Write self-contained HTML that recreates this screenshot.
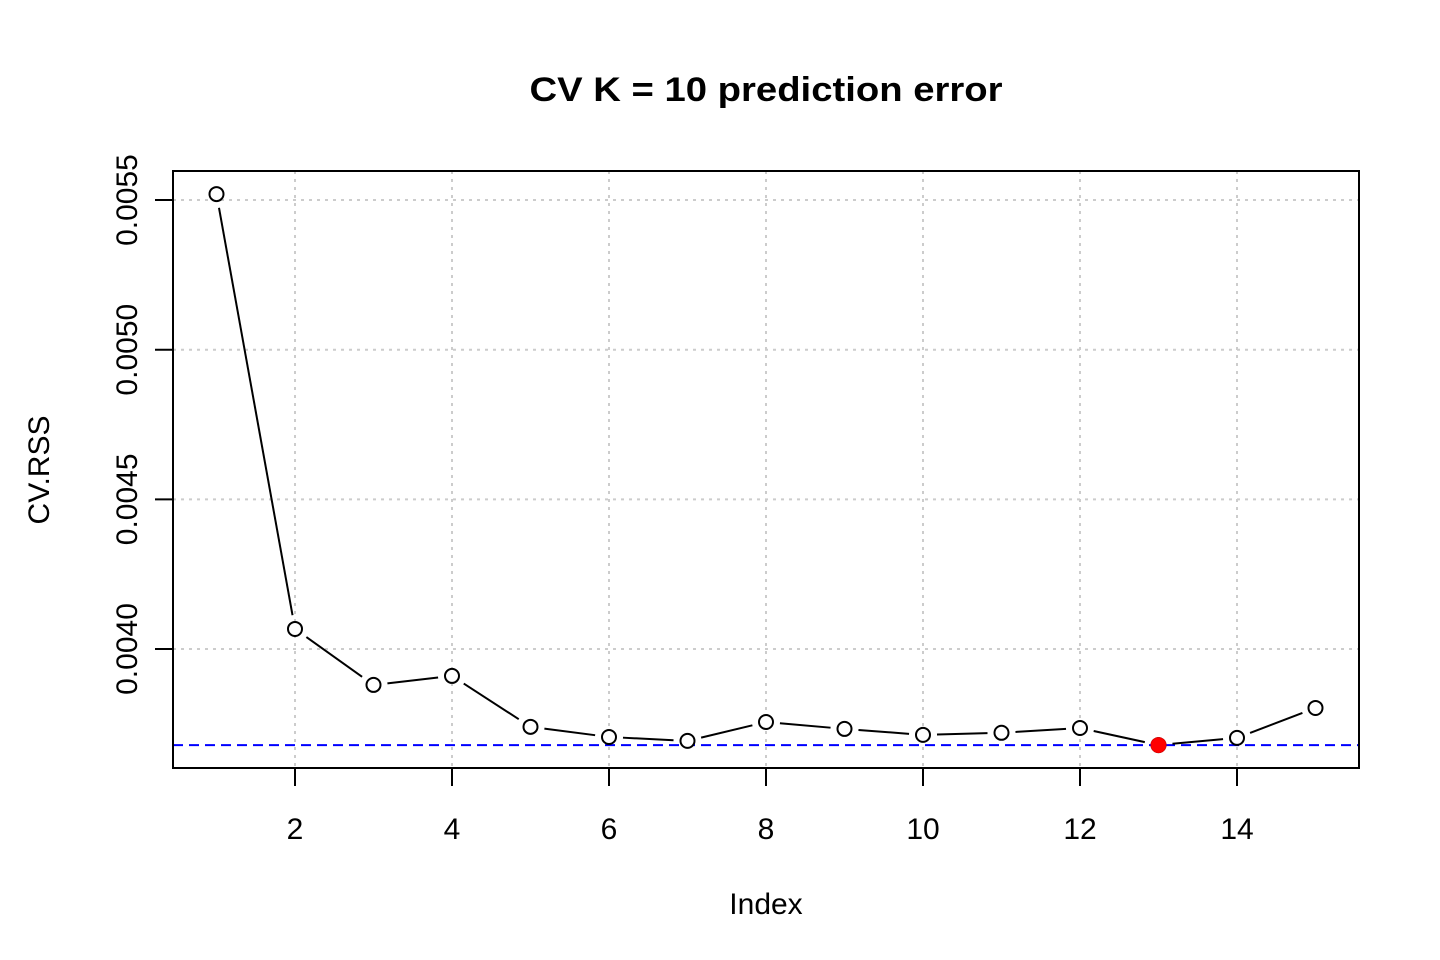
<!DOCTYPE html>
<html><head><meta charset="utf-8"><style>body{margin:0;background:#fff}svg{display:block}text{font-family:"Liberation Sans",Arial,sans-serif}</style></head>
<body>
<svg id="chart" width="1440" height="960">
<text x="766" y="101" text-anchor="middle" font-size="34" font-weight="bold" textLength="473" lengthAdjust="spacingAndGlyphs">CV K = 10 prediction error</text>
<text x="766" y="914" text-anchor="middle" font-size="30">Index</text>
<text transform="translate(49,470) rotate(-90)" text-anchor="middle" font-size="30">CV.RSS</text>
<g id="grid"></g><g id="axes"></g><g id="marks"></g>
<rect x="173" y="171" width="1186" height="597" fill="none" stroke="#000" stroke-width="2"/>
</svg>
<script>
const xs = [1,2,3,4,5,6,7,8,9,10,11,12,13,14,15];
const cvRss = [0.00552,0.004067,0.00388,0.00391,0.00374,0.003706,0.003693,0.003756,0.003733,0.003713,0.00372,0.003736,0.003679,0.003703,0.003803];
const xTicks = [2,4,6,8,10,12,14];
const yTicks = [0.0040,0.0045,0.0050,0.0055];
const yTickLabels = ["0.0040","0.0045","0.0050","0.0055"];
const NS="http://www.w3.org/2000/svg";
const X=v=>216.5+(v-1)*78.5;
const Y=v=>649-(v-0.004)/0.001*299.3;
function mk(p,t,a){const e=document.createElementNS(NS,t);for(const k in a)e.setAttribute(k,a[k]);p.appendChild(e);return e;}
const g=document.getElementById('grid'),ax=document.getElementById('axes'),m=document.getElementById('marks');
xTicks.forEach(t=>{
 const l=mk(g,'line',{x1:X(t),x2:X(t),y1:171,y2:768,stroke:'#ccc','stroke-width':2,'stroke-dasharray':'3,5'});
 
 
 const tk=mk(ax,'line',{x1:X(t),x2:X(t),y1:768,y2:786,stroke:'#000','stroke-width':2});
 
 
 const tx=mk(ax,'text',{x:X(t),y:839,'text-anchor':'middle','font-size':30});tx.textContent=t;
 
 
});
yTicks.forEach((t,i)=>{
 const l=mk(g,'line',{x1:173,x2:1359,y1:Y(t),y2:Y(t),stroke:'#ccc','stroke-width':2,'stroke-dasharray':'3,5'});
 
 
 const tk=mk(ax,'line',{x1:155,x2:173,y1:Y(t),y2:Y(t),stroke:'#000','stroke-width':2});
 
 
 const tx=mk(ax,'text',{transform:`translate(137,${Y(t)}) rotate(-90)`,'text-anchor':'middle','font-size':30});tx.textContent=yTickLabels[i];
 
 
});
const minV=Math.min(...cvRss),minI=cvRss.indexOf(minV);
const h=mk(m,'line',{x1:173,x2:1359,y1:Y(minV),y2:Y(minV),stroke:'#0000ff','stroke-width':2,'stroke-dasharray':'10,6'});


for(let i=0;i<xs.length-1;i++){
 const x1=X(xs[i]),y1=Y(cvRss[i]),x2=X(xs[i+1]),y2=Y(cvRss[i+1]);
 const dx=x2-x1,dy=y2-y1,d=Math.hypot(dx,dy),r=14;
 if(d<=2*r)continue;
 const s=mk(m,'line',{x1:x1+dx/d*r,y1:y1+dy/d*r,x2:x2-dx/d*r,y2:y2-dy/d*r,stroke:'#000','stroke-width':2});
 
 
}
xs.forEach((x,i)=>{
 const c=mk(m,'circle',{cx:X(x),cy:Y(cvRss[i]),r:7,fill:'#fff',stroke:'#000','stroke-width':2});
 
 
});
const mc=mk(m,'circle',{cx:X(xs[minI]),cy:Y(minV),r:7.5,fill:'#ff0000',stroke:'#e00','stroke-width':1});


</script>
</body></html>
